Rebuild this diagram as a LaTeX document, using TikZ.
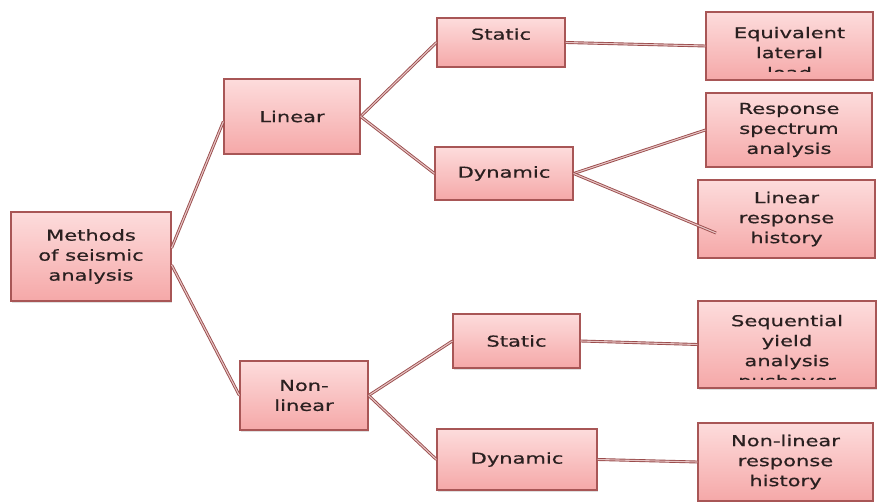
\documentclass[tikz,border=0pt]{standalone}
\usepackage{fontspec}
\newfontfamily\boxfont[FakeStretch=1.4,FakeBold=0.6]{DejaVu Sans}
\usetikzlibrary{shadows}
\definecolor{boxborder}{HTML}{A85656}
\definecolor{boxtop}{HTML}{FDDCDC}
\definecolor{boxbot}{HTML}{F5A8A8}
\definecolor{linkcol}{HTML}{9A4C4C}
\definecolor{linkmid}{HTML}{E6C4C4}
\definecolor{txtcol}{HTML}{2A2020}
\tikzset{
  box/.style={draw=boxborder, line width=1.2pt, top color=boxtop, bottom color=boxbot,
    drop shadow={shadow xshift=1pt, shadow yshift=-1.5pt, opacity=0.25}},
  txt/.style={font=\boxfont\fontsize{15}{20}\selectfont, text=txtcol, align=center, inner sep=0pt},
  link/.style={draw=linkcol, double=linkmid, line width=0.9pt, double distance=1.1pt}
}
\begin{document}
\begin{tikzpicture}[x=1pt,y=-1pt]
\useasboundingbox (0,0) rectangle (877,502);
% boxes
\node[box, txt, minimum width=160pt, minimum height=89pt] (meth) at (91,256.5) {Methods\\of seismic\\analysis};
\node[box, txt, minimum width=136pt, minimum height=75pt] (lin) at (292,116.5) {Linear};
\node[box, txt, minimum width=128pt, minimum height=69pt] (nonlin) at (304,395.5) {Non-\\linear};
\node[box, txt, minimum width=128pt, minimum height=49pt, text depth=17pt] (st1) at (501,42.5) {Static};
\node[box, txt, minimum width=138pt, minimum height=53pt] (dy1) at (504,173.5) {Dynamic};
\node[box, txt, minimum width=127pt, minimum height=54pt] (st2) at (516.5,341) {Static};
\node[box, txt, minimum width=160pt, minimum height=61pt] (dy2) at (517,459.5) {Dynamic};
\node[box, minimum width=167pt, minimum height=68pt] (eq) at (789.5,46) {};
\begin{scope}
  \clip (706,12) rectangle (873,72);
  \node[txt, anchor=north] (eqtext) at (789.5,26.6) {Equivalent\\lateral\\load};
\end{scope}
\node[box, txt, minimum width=166pt, minimum height=74pt] (rs) at (789,130) {Response\\spectrum\\analysis};
\node[box, txt, minimum width=177pt, minimum height=78pt] (lrh) at (786.5,219) {Linear\\response\\history};
\node[box, minimum width=178pt, minimum height=87pt] (seq) at (787,344.5) {};
\begin{scope}
  \clip (698,301) rectangle (876,379.5);
  \node[txt, anchor=north] (seqtext) at (787,314.6) {Sequential\\yield\\analysis\\pushover};
\end{scope}
\node[box, txt, minimum width=175pt, minimum height=78pt] (nlrh) at (785.5,462) {Non-linear\\response\\history};
% connectors
\coordinate (lrhend) at (716,233);
\draw[link] ([yshift=8.5pt]meth.east) -- ([yshift=-5pt]lin.west);
\draw[link] ([yshift=-8.5pt]meth.east) -- (nonlin.west);
\draw[link] (lin.east) -- (st1.west);
\draw[link] (lin.east) -- (dy1.west);
\draw[link] (st1.east) -- (eq.west);
\draw[link] (dy1.east) -- (rs.west);
\draw[link] (dy1.east) -- (lrhend);
\draw[link] (nonlin.east) -- (st2.west);
\draw[link] (nonlin.east) -- (dy2.west);
\draw[link] (st2.east) -- (seq.west);
\draw[link] (dy2.east) -- (nlrh.west);
\end{tikzpicture}
\end{document}
